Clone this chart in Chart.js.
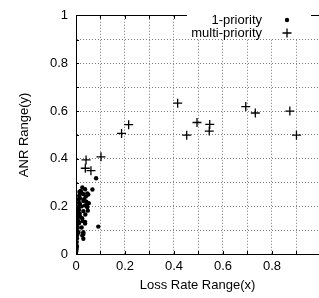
<!DOCTYPE html>
<html>
<head>
<meta charset="utf-8">
<script src="https://cdn.jsdelivr.net/npm/chart.js@4"></script>
<style>
html,body{margin:0;padding:0;background:#fff;}
#wrap{width:319px;height:298px;}
</style>
</head>
<body>
<div id="wrap"><canvas id="c" width="319" height="298"></canvas></div>
<script>
// ---- data ----
const seriesNames = ['1-priority', 'multi-priority'];
const xTitle = 'Loss Rate Range(x)';
const yTitle = 'ANR Range(y)';
const xTickValues = [0, 0.1, 0.2, 0.3, 0.4, 0.5, 0.6, 0.7, 0.8, 0.9];
const xTickLabels = ['0', '0.2', '0.4', '0.6', '0.8'];
const yTickLabels = ['0', '0.2', '0.4', '0.6', '0.8', '1'];

// 1-priority (x, y)
const onePriX = [0, 0.001, 0.002, 0.003, 0.003, 0.004, 0.005, 0.006, 0.007, 0.006, 0.008, 0.009, 0.008, 0.010, 0.011, 0.012, 0.011, 0.013, 0.014, 0.018, 0.004, 0.010, 0.013, 0.015, 0.016,
  0.026, 0.037, 0.046, 0.029, 0.040, 0.050, 0.016, 0.030, 0.042, 0.052, 0.023, 0.037, 0.046, 0.012, 0.030, 0.038, 0.048, 0.016, 0.027, 0.037, 0.023, 0.030, 0.026, 0.030, 0.067, 0.082, 0.091, 0.037, 0.030, 0.020, 0.033, 0.044, 0.025];
const onePriY = [0, 0.01, 0.02, 0.035, 0.05, 0.065, 0.08, 0.095, 0.11, 0.125, 0.14, 0.155, 0.17, 0.185, 0.2, 0.215, 0.23, 0.245, 0.26, 0.265, 0.03, 0.09, 0.13, 0.17, 0.21,
  0.279, 0.272, 0.254, 0.252, 0.241, 0.250, 0.234, 0.223, 0.220, 0.213, 0.200, 0.204, 0.196, 0.186, 0.180, 0.166, 0.182, 0.159, 0.139, 0.135, 0.111, 0.091, 0.078, 0.064, 0.271, 0.318, 0.115, 0.128, 0.084, 0.262, 0.230, 0.205, 0.150];

// multi-priority (x, y)
const multiPriX = [0.041, 0.038, 0.061, 0.102, 0.186, 0.215, 0.415, 0.452, 0.494, 0.546, 0.544, 0.693, 0.732, 0.873, 0.900];
const multiPriY = [0.395, 0.360, 0.350, 0.408, 0.506, 0.543, 0.633, 0.499, 0.552, 0.544, 0.516, 0.619, 0.592, 0.600, 0.499];

const toPts = (xs, ys) => xs.map((x, i) => ({x: x, y: ys[i]}));
const FONT = {family: '"Liberation Sans", Arial, Helvetica, sans-serif', size: 13};
const GRID_GRAY = '#7a7a7a';

function tickLabel(list) {
  return function (v) {
    const s = (Math.round(v * 10) / 10);
    const str = s === 0 ? '0' : (s === 1 ? '1' : s.toFixed(1));
    return list.includes(str) && Math.abs(v - s) < 1e-9 ? str : '';
  };
}

// frame tick marks + legend drawn inside the plot (gnuplot style: text then symbol)
const insideLegend = {
  id: 'insideLegend',
  beforeDatasetsDraw(chart) {
    const {ctx, chartArea: a, scales: {x, y}} = chart;
    ctx.save();
    ctx.strokeStyle = '#000';
    ctx.lineWidth = 1;
    ctx.beginPath();
    for (let i = 1; i <= 9; i++) {
      const px = Math.round(x.getPixelForValue(i / 10)) + 0.5;
      ctx.moveTo(px, a.top); ctx.lineTo(px, a.top + 3);
      ctx.moveTo(px, a.bottom); ctx.lineTo(px, a.bottom - 3);
      const py = Math.round(y.getPixelForValue(i / 10)) + 0.5;
      ctx.moveTo(a.left, py); ctx.lineTo(a.left + 3, py);
    }
    ctx.stroke();

    ctx.fillStyle = '#fff';
    ctx.fillRect(187, 13, 124, 26);
    ctx.font = '13px ' + FONT.family;
    ctx.fillStyle = '#000';
    ctx.textAlign = 'right';
    ctx.textBaseline = 'alphabetic';
    ctx.fillText(seriesNames[0], 262, 24);
    ctx.fillText(seriesNames[1], 262, 37);
    ctx.beginPath();
    ctx.arc(287, 20, 2.2, 0, Math.PI * 2);
    ctx.fill();
    ctx.lineWidth = 1.3;
    ctx.beginPath();
    ctx.moveTo(282.5, 33); ctx.lineTo(291.5, 33);
    ctx.moveTo(287, 28.5); ctx.lineTo(287, 37.5);
    ctx.stroke();
    ctx.restore();
  }
};

new Chart(document.getElementById('c'), {
  type: 'scatter',
  data: {
    datasets: [
      {
        label: seriesNames[0],
        data: toPts(onePriX, onePriY),
        pointStyle: 'circle',
        pointRadius: 2.2,
        pointBackgroundColor: '#000',
        pointBorderWidth: 0,
        pointBorderColor: '#000'
      },
      {
        label: seriesNames[1],
        data: toPts(multiPriX, multiPriY),
        pointStyle: 'cross',
        pointRadius: 4.5,
        pointBorderColor: '#000',
        pointBorderWidth: 1.3
      }
    ]
  },
  options: {
    responsive: false,
    animation: false,
    devicePixelRatio: 1,
    layout: {autoPadding: false, padding: {left: 17, top: 9, right: 0, bottom: 5}},
    plugins: {legend: {display: false}, tooltip: {enabled: false}},
    scales: {
      x: {
        type: 'linear',
        min: 0,
        max: 0.992,
        afterBuildTicks(s) { s.ticks = xTickValues.map(v => ({value: v})); },
        afterFit(s) { s.height = 39; },
        ticks: {callback: tickLabel(xTickLabels), color: '#000', font: FONT, padding: 5, maxRotation: 0, autoSkip: false},
        grid: {drawTicks: false, color: GRID_GRAY, lineWidth: 1},
        border: {display: true, color: '#000', width: 1, dash: [1, 2]},
        title: {display: true, text: xTitle, color: '#000', font: FONT, padding: 0}
      },
      y: {
        type: 'linear',
        min: 0,
        max: 1,
        afterFit(s) { s.width = 59; },
        ticks: {stepSize: 0.1, callback: tickLabel(yTickLabels), color: '#000', font: FONT, padding: 8, autoSkip: false},
        grid: {
          drawTicks: false,
          color: (c) => (c.tick && c.tick.value === 1) ? '#000' : GRID_GRAY,
          lineWidth: 1
        },
        border: {display: true, color: '#000', width: 1, dash: (c) => (c.tick && c.tick.value === 1) ? [] : [1, 2]},
        title: {display: true, text: yTitle, color: '#000', font: FONT, padding: 0}
      }
    }
  },
  plugins: [insideLegend]
});
</script>
</body>
</html>
